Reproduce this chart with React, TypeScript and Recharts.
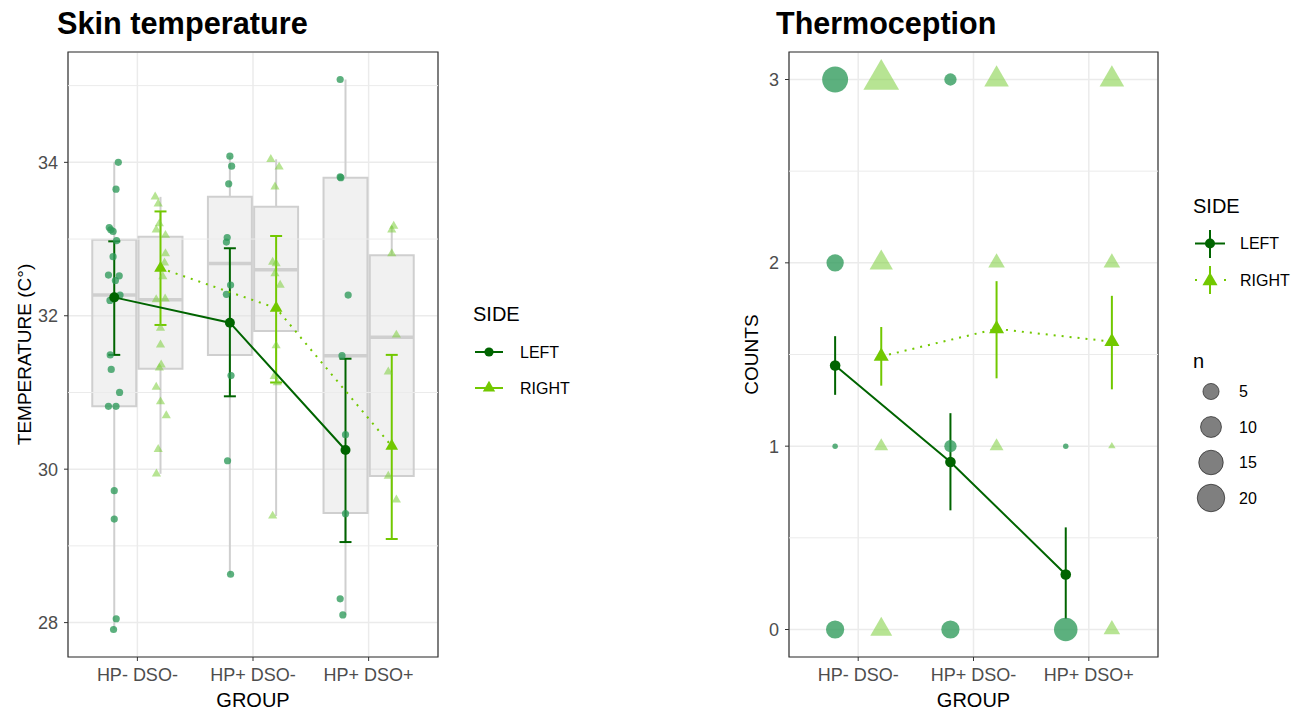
import React from 'react';
import {
  ComposedChart,
  XAxis,
  YAxis,
  CartesianGrid,
  Scatter,
  ErrorBar,
  ReferenceArea,
  ReferenceLine,
} from 'recharts';

// ---------------- DATA ----------------
const groups = ['HP- DSO-', 'HP+ DSO-', 'HP+ DSO+'];
const sideNames = ['LEFT', 'RIGHT'];

// Skin temperature observations (°C), one list per group
const skinLeft = [
  [34.0, 33.65, 33.15, 33.12, 33.1, 32.98, 32.77, 32.53, 32.52, 32.46, 32.27, 32.2, 31.49, 31.3, 31.0, 30.82, 30.82, 29.72, 29.35, 28.05, 27.91],
  [34.08, 33.95, 33.72, 33.02, 32.96, 32.4, 32.28, 31.22, 30.11, 28.63],
  [35.08, 33.81, 33.8, 32.27, 31.48, 30.45, 29.42, 28.31, 28.1],
];
const skinRight = [
  [33.55, 33.46, 33.2, 33.12, 33.05, 32.81, 32.69, 32.51, 32.21, 32.22, 31.84, 31.62, 31.36, 31.32, 31.07, 30.88, 30.7, 30.26, 29.94],
  [34.04, 33.94, 33.68, 32.7, 32.68, 32.55, 32.4, 31.61, 31.21, 31.13, 29.39],
  [33.17, 33.12, 32.81, 31.75, 31.27, 29.91, 29.6],
];
// horizontal jitter (category units)
const skinLeftJitter = [
  [0.035, 0.015, -0.043, -0.03, -0.01, 0.02, -0.01, -0.05, 0.043, 0.01, 0.05, -0.037, -0.035, -0.026, 0.046, -0.05, 0.015, 0, 0, 0.017, -0.006],
  [0, 0.015, -0.01, -0.023, -0.03, 0.006, -0.03, 0.01, -0.02, 0.006],
  [-0.046, -0.046, -0.04, 0.023, -0.03, 0, 0, -0.046, -0.023],
];
const skinRightJitter = [
  [-0.046, -0.02, -0.01, -0.037, 0.043, 0.043, 0.035, 0.02, -0.037, 0.04, 0, 0, 0.006, -0.01, -0.037, 0, 0.05, -0.02, -0.035],
  [-0.046, 0.026, -0.01, -0.03, 0, -0.01, 0.035, 0, -0.017, 0.01, -0.03],
  [0.017, 0, 0, 0.04, -0.03, -0.03, 0.04],
];
// boxplot stats: [lower whisker, Q1, median, Q3, upper whisker]
const skinBoxLeft = [
  [27.91, 30.82, 32.27, 32.99, 34.0],
  [28.63, 31.49, 32.68, 33.55, 34.08],
  [28.1, 29.43, 31.48, 33.8, 35.08],
];
const skinBoxRight = [
  [29.94, 31.31, 32.21, 33.03, 33.55],
  [29.39, 31.8, 32.6, 33.42, 34.04],
  [29.6, 29.91, 31.72, 32.79, 33.17],
];
const skinMeanLeft = [32.24, 31.91, 30.25];
const skinCiLeft = [[31.49, 32.97], [30.95, 32.88], [29.05, 31.44]];
const skinMeanRight = [32.62, 32.1, 30.3];
const skinCiRight = [[31.88, 33.36], [31.13, 33.04], [29.09, 31.49]];
const skinTicks = [28, 30, 32, 34];
const skinMinorTicks = [29, 31, 33, 35];

// Thermoception: number of subjects (n) at each count level 0..3, per group
const countLevels = [0, 1, 2, 3];
const thermoNLeft = [[8, 1, 7, 19], [8, 3, 0, 3], [15, 1, 0, 0]];
const thermoNRight = [[6, 2, 7, 20], [0, 2, 3, 8], [3, 1, 3, 8]];
const thermoMeanLeft = [1.44, 0.914, 0.3];
const thermoCiLeft = [[1.28, 1.6], [0.65, 1.18], [0.058, 0.557]];
const thermoMeanRight = [1.49, 1.64, 1.57];
const thermoCiRight = [[1.33, 1.65], [1.37, 1.9], [1.31, 1.82]];
const countTicks = [0, 1, 2, 3];
const countMinorTicks = [0.5, 1.5, 2.5];
const sizeBreaks = [5, 10, 15, 20];

// ---------------- STYLE ----------------
const FONT = '"Liberation Sans", Arial, Helvetica, sans-serif';
const DARK = '#006400';
const LIGHT = '#72c800';
const PT_L = '#2e9a5a';
const PT_R = '#7ccd3a';
const GRID = '#ebebeb';
const BOX_STROKE = '#cfcfcf';
const DODGE = 0.2;
const BOX_HALF = 0.19;
const xDomain = [0.4, 3.6];

const allSkin = [...skinLeft.flat(), ...skinRight.flat()];
const skinMin = Math.min(...allSkin);
const skinMax = Math.max(...allSkin);
const skinPad = (skinMax - skinMin) * 0.05;
const skinDomain = [skinMin - skinPad, skinMax + skinPad];
const countPad = (countLevels[countLevels.length - 1] - countLevels[0]) * 0.05;
const countDomain = [countLevels[0] - countPad, countLevels[countLevels.length - 1] + countPad];

const allN = [...thermoNLeft.flat(), ...thermoNRight.flat()].filter((n) => n > 0);
const nMin = Math.min(...allN);
const nMax = Math.max(...allN);
const dotDiameter = (n: number) => 5.5 + 21 * Math.sqrt(Math.max(0, n - nMin) / (nMax - nMin));

const triPoints = (cx: number, cy: number, R: number) =>
  `${cx},${cy - 1.5551 * R} ${cx + 1.3468 * R},${cy + 0.7776 * R} ${cx - 1.3468 * R},${cy + 0.7776 * R}`;

// ---------------- derived series ----------------
const jitterPts = (vals: number[][], jit: number[][], off: number) =>
  vals.flatMap((row, gi) => row.map((v, i) => ({ x: gi + 1 + off + jit[gi][i], y: v })));
const meanPts = (means: number[], ci: number[][], off: number) =>
  means.map((m, gi) => ({ x: gi + 1 + off, y: m, err: [m - ci[gi][0], ci[gi][1] - m] }));
const countPts = (table: number[][], off: number) =>
  table.flatMap((row, gi) =>
    row.map((n, ci) => ({ x: gi + 1 + off, y: countLevels[ci], n })).filter((p) => p.n > 0)
  );

const skinLeftPts = jitterPts(skinLeft, skinLeftJitter, -DODGE);
const skinRightPts = jitterPts(skinRight, skinRightJitter, DODGE);
const skinMeanLeftPts = meanPts(skinMeanLeft, skinCiLeft, -DODGE);
const skinMeanRightPts = meanPts(skinMeanRight, skinCiRight, DODGE);
const thermoLeftPts = countPts(thermoNLeft, -DODGE);
const thermoRightPts = countPts(thermoNRight, DODGE);
const thermoMeanLeftPts = meanPts(thermoMeanLeft, thermoCiLeft, -DODGE);
const thermoMeanRightPts = meanPts(thermoMeanRight, thermoCiRight, DODGE);

// ---------------- shapes ----------------
const ok = (p: any) => typeof p.cx === 'number' && typeof p.cy === 'number';
const JitterCircle = (p: any) =>
  ok(p) ? <circle cx={p.cx} cy={p.cy} r={3.6} fill={PT_L} fillOpacity={0.78} /> : <g />;
const JitterTri = (p: any) =>
  ok(p) ? <polygon points={triPoints(p.cx, p.cy, 3.4)} fill={PT_R} fillOpacity={0.55} /> : <g />;
const MeanCircle = (r: number) => (p: any) =>
  ok(p) ? <circle cx={p.cx} cy={p.cy} r={r} fill={DARK} /> : <g />;
const MeanTri = (R: number) => (p: any) =>
  ok(p) ? <polygon points={triPoints(p.cx, p.cy, R)} fill={LIGHT} /> : <g />;
const CountCircle = (p: any) =>
  ok(p) ? <circle cx={p.cx} cy={p.cy} r={dotDiameter(p.payload.n) / 2} fill={PT_L} fillOpacity={0.78} /> : <g />;
const CountTri = (p: any) =>
  ok(p) ? (
    <polygon points={triPoints(p.cx, p.cy, dotDiameter(p.payload.n) / 2)} fill={PT_R} fillOpacity={0.55} />
  ) : (
    <g />
  );

const tickStyle = { fill: '#4d4d4d', fontSize: 18, fontFamily: FONT };

const boxElems = (stats: number[][], off: number, prefix: string) =>
  stats.flatMap(([lo, q1, med, q3, hi], gi) => {
    const xc = gi + 1 + off;
    return [
      <ReferenceLine key={`${prefix}wl${gi}`} segment={[{ x: xc, y: lo }, { x: xc, y: q1 }]} stroke={BOX_STROKE} strokeWidth={2} />,
      <ReferenceLine key={`${prefix}wh${gi}`} segment={[{ x: xc, y: q3 }, { x: xc, y: hi }]} stroke={BOX_STROKE} strokeWidth={2} />,
      <ReferenceArea
        key={`${prefix}b${gi}`}
        x1={xc - BOX_HALF}
        x2={xc + BOX_HALF}
        y1={q1}
        y2={q3}
        fill="#e0e0e0"
        fillOpacity={0.45}
        stroke={BOX_STROKE}
        strokeWidth={2}
      />,
      <ReferenceLine
        key={`${prefix}m${gi}`}
        segment={[{ x: xc - BOX_HALF, y: med }, { x: xc + BOX_HALF, y: med }]}
        stroke={BOX_STROKE}
        strokeWidth={3.5}
      />,
    ];
  });

const minorLines = (vals: number[], prefix: string) =>
  vals.map((v) => <ReferenceLine key={`${prefix}${v}`} y={v} stroke={GRID} strokeWidth={1} />);

const commonX = (
  <XAxis
    type="number"
    dataKey="x"
    domain={xDomain}
    ticks={[1, 2, 3]}
    interval={0}
    allowDataOverflow
    tickFormatter={(v: number) => groups[Math.round(v) - 1]}
    tick={tickStyle}
    tickLine={{ stroke: '#333' }}
    tickSize={4}
    tickMargin={7}
    axisLine={false}
    height={53}
  />
);

function SkinChart() {
  return (
    <ComposedChart width={450} height={710} margin={{ top: 52, right: 12, bottom: 0, left: 0 }}>
      <CartesianGrid stroke={GRID} strokeWidth={1.5} />
      {commonX}
      <YAxis
        type="number"
        dataKey="y"
        domain={skinDomain}
        ticks={skinTicks}
        interval={0}
        allowDataOverflow
        tick={tickStyle}
        tickLine={{ stroke: '#333' }}
        tickSize={4}
        tickMargin={6}
        axisLine={false}
        width={68}
      />
      {minorLines(skinMinorTicks, 'sm')}
      {boxElems(skinBoxLeft, -DODGE, 'bl')}
      {boxElems(skinBoxRight, DODGE, 'br')}
      <Scatter data={skinLeftPts} dataKey="y" shape={JitterCircle} isAnimationActive={false} />
      <Scatter data={skinRightPts} dataKey="y" shape={JitterTri} isAnimationActive={false} />
      <Scatter
        data={skinMeanLeftPts}
        dataKey="y"
        fill={DARK}
        line={{ stroke: DARK, strokeWidth: 2 }}
        lineType="joint"
        shape={MeanCircle(5)}
        isAnimationActive={false}
      >
        <ErrorBar dataKey="err" direction="y" width={6} stroke={DARK} strokeWidth={2} isAnimationActive={false} />
      </Scatter>
      <Scatter
        data={skinMeanRightPts}
        dataKey="y"
        fill={LIGHT}
        line={{ stroke: LIGHT, strokeWidth: 2, strokeDasharray: '2 6' }}
        lineType="joint"
        shape={MeanTri(4.7)}
        isAnimationActive={false}
      >
        <ErrorBar dataKey="err" direction="y" width={6} stroke={LIGHT} strokeWidth={2} isAnimationActive={false} />
      </Scatter>
      <ReferenceArea
        x1={xDomain[0]}
        x2={xDomain[1]}
        y1={skinDomain[0]}
        y2={skinDomain[1]}
        fill="none"
        fillOpacity={0}
        stroke="#333"
        strokeWidth={1.2}
        ifOverflow="visible"
      />
    </ComposedChart>
  );
}

function ThermoChart() {
  return (
    <ComposedChart width={450} height={710} margin={{ top: 52, right: 12, bottom: 0, left: 0 }}>
      <CartesianGrid stroke={GRID} strokeWidth={1.5} />
      {commonX}
      <YAxis
        type="number"
        dataKey="y"
        domain={countDomain}
        ticks={countTicks}
        interval={0}
        allowDataOverflow
        tick={tickStyle}
        tickLine={{ stroke: '#333' }}
        tickSize={4}
        tickMargin={6}
        axisLine={false}
        width={69}
      />
      {minorLines(countMinorTicks, 'cm')}
      <Scatter data={thermoLeftPts} dataKey="y" shape={CountCircle} isAnimationActive={false} />
      <Scatter data={thermoRightPts} dataKey="y" shape={CountTri} isAnimationActive={false} />
      <Scatter
        data={thermoMeanLeftPts}
        dataKey="y"
        fill={DARK}
        line={{ stroke: DARK, strokeWidth: 2 }}
        lineType="joint"
        shape={MeanCircle(5.3)}
        isAnimationActive={false}
      >
        <ErrorBar dataKey="err" direction="y" width={0} stroke={DARK} strokeWidth={2} isAnimationActive={false} />
      </Scatter>
      <Scatter
        data={thermoMeanRightPts}
        dataKey="y"
        fill={LIGHT}
        line={{ stroke: LIGHT, strokeWidth: 2, strokeDasharray: '2 6' }}
        lineType="joint"
        shape={MeanTri(5.6)}
        isAnimationActive={false}
      >
        <ErrorBar dataKey="err" direction="y" width={0} stroke={LIGHT} strokeWidth={2} isAnimationActive={false} />
      </Scatter>
      <ReferenceArea
        x1={xDomain[0]}
        x2={xDomain[1]}
        y1={countDomain[0]}
        y2={countDomain[1]}
        fill="none"
        fillOpacity={0}
        stroke="#333"
        strokeWidth={1.2}
        ifOverflow="visible"
      />
    </ComposedChart>
  );
}

function Overlay() {
  const legendY = [391.5, 427, 462.5, 498];
  return (
    <svg
      width={1298}
      height={710}
      style={{ position: 'absolute', left: 0, top: 0, pointerEvents: 'none' }}
      fontFamily={FONT}
    >
      {/* titles */}
      <text x={57} y={34} fontSize={30.7} fontWeight="bold" fill="#000">Skin temperature</text>
      <text x={776} y={34} fontSize={30.5} fontWeight="bold" fill="#000">Thermoception</text>
      {/* axis titles */}
      <text x={31} y={354.5} fontSize={19} textAnchor="middle" fill="#000" transform="rotate(-90 31 354.5)">
        TEMPERATURE (C°)
      </text>
      <text x={253} y={707} fontSize={20} textAnchor="middle" fill="#000">GROUP</text>
      <text x={758} y={354.5} fontSize={19} textAnchor="middle" fill="#000" transform="rotate(-90 758 354.5)">
        COUNTS
      </text>
      <text x={973.5} y={707} fontSize={20} textAnchor="middle" fill="#000">GROUP</text>

      {/* left legend */}
      <text x={473} y={321} fontSize={20} fill="#000">SIDE</text>
      <line x1={475} x2={503} y1={352} y2={352} stroke={DARK} strokeWidth={2} />
      <circle cx={489} cy={352} r={4.6} fill={DARK} />
      <text x={520} y={352} fontSize={16} fill="#000" dominantBaseline="central">{sideNames[0]}</text>
      <line x1={475} x2={503} y1={388} y2={388} stroke={LIGHT} strokeWidth={2} />
      <polygon points={triPoints(489, 388, 4.6)} fill={LIGHT} />
      <text x={520} y={388} fontSize={16} fill="#000" dominantBaseline="central">{sideNames[1]}</text>

      {/* right legend: SIDE */}
      <text x={1193} y={213} fontSize={20} fill="#000">SIDE</text>
      <line x1={1210} x2={1210} y1={230} y2={258} stroke={DARK} strokeWidth={2} />
      <line x1={1195} x2={1225} y1={243.5} y2={243.5} stroke={DARK} strokeWidth={2} />
      <circle cx={1210} cy={243.5} r={5} fill={DARK} />
      <text x={1240} y={243.5} fontSize={16} fill="#000" dominantBaseline="central">{sideNames[0]}</text>
      <line x1={1210} x2={1210} y1={266} y2={294} stroke={LIGHT} strokeWidth={2} />
      <line x1={1195} x2={1226} y1={280} y2={280} stroke={LIGHT} strokeWidth={2} strokeDasharray="2 27" />
      <polygon points={triPoints(1210, 281, 5.6)} fill={LIGHT} />
      <text x={1240} y={280} fontSize={16} fill="#000" dominantBaseline="central">{sideNames[1]}</text>

      {/* right legend: n */}
      <text x={1193} y={368} fontSize={20} fill="#000">n</text>
      {sizeBreaks.map((b, i) => (
        <g key={b}>
          <circle
            cx={1211}
            cy={legendY[i]}
            r={dotDiameter(b) / 2 + 0.5}
            fill="#000"
            fillOpacity={0.5}
            stroke="#000"
            strokeOpacity={0.55}
            strokeWidth={1}
          />
          <text x={1239} y={legendY[i]} fontSize={16} fill="#000" dominantBaseline="central">{b}</text>
        </g>
      ))}
    </svg>
  );
}

export default function App() {
  return (
    <div
      style={{
        position: 'absolute',
        left: 0,
        top: 0,
        width: 1298,
        height: 710,
        background: '#fff',
        fontFamily: FONT,
        overflow: 'hidden',
      }}
    >
      <div style={{ position: 'absolute', left: 0, top: 0 }}>
        <SkinChart />
      </div>
      <div style={{ position: 'absolute', left: 720, top: 0 }}>
        <ThermoChart />
      </div>
      <Overlay />
    </div>
  );
}
